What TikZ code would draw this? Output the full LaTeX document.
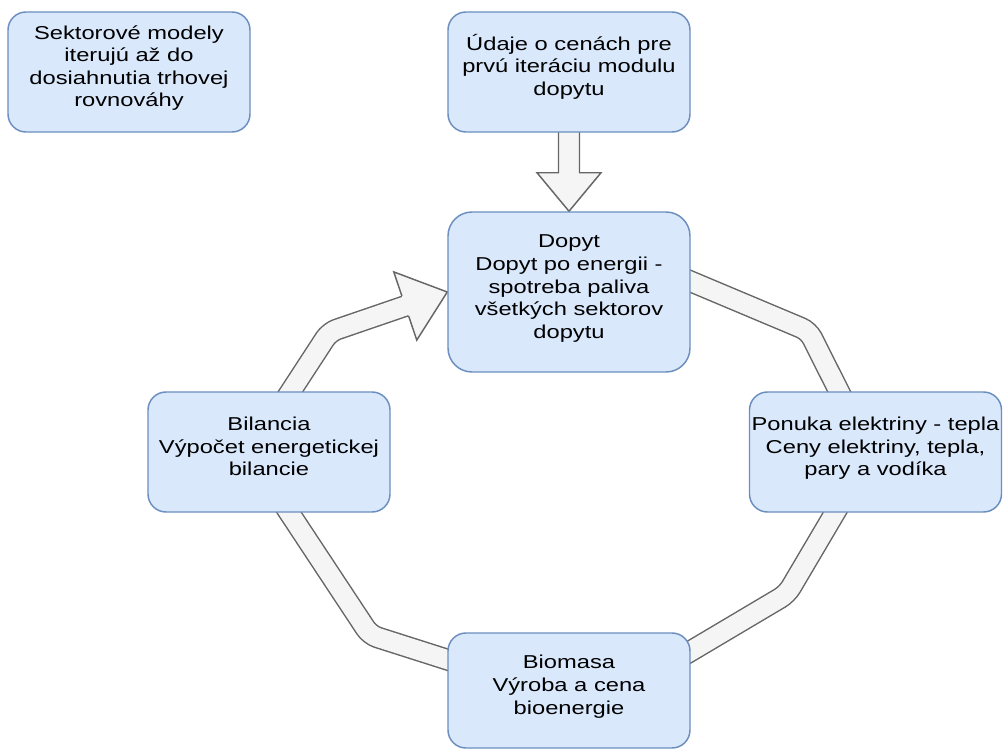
\documentclass[tikz,border=0pt]{standalone}
\usepackage{fontspec}
\setmainfont{Liberation Sans}[FakeStretch=1.27]
\usetikzlibrary{calc,backgrounds}
\definecolor{boxfill}{HTML}{DAE8FC}
\definecolor{boxline}{HTML}{6C8EBF}
\definecolor{arrfill}{HTML}{F5F5F5}
\definecolor{arrline}{HTML}{666666}
\newcommand\La{\rule[-4.2pt]{0pt}{17pt}}
\newcommand\Lz{\rule[-11.3pt]{0pt}{24.1pt}}
\begin{document}
\begin{tikzpicture}[x=0.75pt,y=-0.75pt,
  nbox/.style={draw=boxline, fill=boxfill, line width=1.1pt, rounded corners=13.5pt,
    inner sep=0pt, minimum width=181.5pt, minimum height=90pt, align=center,
    font=\fontsize{14pt}{17pt}\selectfont, text=black},
  blockarrow/.style={draw=arrline, fill=arrfill, line width=1.1pt, line join=miter},
  loopband/.style={draw=arrline, double=arrfill, double distance=14.25pt,
    line width=1.1pt, rounded corners=6pt}]
\useasboundingbox (0,0) rectangle (1003,749);

\node[nbox] (A) at (129,72) {\La Sektorové modely\\ \La iterujú až do\\ \La dosiahnutia trhovej\\ \Lz rovnováhy};
\node[nbox] (B) at (569,72) {\La Údaje o cenách pre\\ \La prvú iteráciu modulu\\ \Lz dopytu};
\node[nbox, minimum height=120pt, rounded corners=18pt] (C) at (569,292) {\La Dopyt\\ \La Dopyt po energii -\\ \La spotreba paliva\\ \La všetkých sektorov\\ \Lz dopytu};
\node[nbox] (D) at (269,452) {\La Bilancia\\ \La Výpočet energetickej\\ \Lz bilancie};
\node[nbox, minimum width=189pt] (E) at (875.5,452) {\La Ponuka elektriny - tepla\\ \La Ceny elektriny, tepla,\\ \Lz pary a vodíka};
\node[nbox, minimum height=86.25pt] (F) at (569,690.5) {\La Biomasa\\ \La Výroba a cena\\ \Lz bioenergie};

\coordinate (c1) at (808.6,331);
\coordinate (c2) at (787,594);
\coordinate (c3) at (370,635);
\coordinate (c4) at (329.4,332);

\begin{scope}[on background layer]
  % top block arrow B -> C
  \draw[blockarrow] ($(B.south)+(-10.5,-3)$) -- ($(B.south)+(-10.5,40)$)
    -- ($(B.south)+(-32,40)$) -- (C.north) -- ($(B.south)+(32,40)$)
    -- ($(B.south)+(10.5,40)$) -- ($(B.south)+(10.5,-3)$) -- cycle;
  % loop band C -> E -> F -> D -> C
  \draw[loopband] ($(C.east)+(-20,-19)$) -- (c1)
    -- ($(E.north)+(-27.5,18)$) -- ($(E.south)+(-30.5,-17)$) -- (c2)
    -- ($(F.east)+(-20,-27.5)$) -- ($(F.west)+(20,-24.5)$) -- (c3)
    -- ($(D.south)+(9,-17)$) -- ($(D.north)+(10,18)$) -- (c4)
    -- ($(C.west)+(-39.2,13.05)$);
  % loop arrow head
  \filldraw[blockarrow] ($(C.west)+(-45.4,3.9)$) -- ($(C.west)+(-53.5,-20.1)$)
    -- (C.west) -- ($(C.west)+(-30.5,48.1)$) -- ($(C.west)+(-38.6,24.1)$);
\end{scope}
\end{tikzpicture}
\end{document}
